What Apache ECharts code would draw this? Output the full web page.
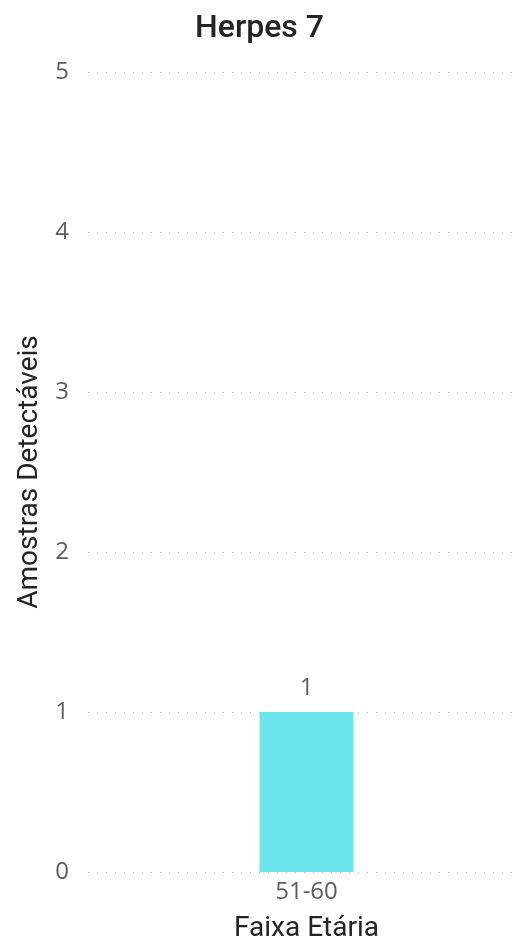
<!DOCTYPE html>
<html><head><meta charset="utf-8">
<script src="https://cdn.jsdelivr.net/npm/echarts@6/dist/echarts.min.js"></script>
<style>html,body{margin:0;padding:0;background:#fff}#c{width:519px;height:946px}</style>
</head><body><div id="c"></div>
<script>
const categories = ['51-60'];
const values = [1];
const yTicks = [0, 1, 2, 3, 4, 5];
const title = 'Herpes 7';
const xName = 'Faixa Etária';
const yName = 'Amostras Detectáveis';

const chart = echarts.init(document.getElementById('c'));
chart.setOption({
  animation: false,
  title: {text: title, left: 'center', top: 8, textStyle: {fontFamily: 'Roboto', fontSize: 32, fontWeight: 500, color: '#252423'}},
  grid: {left: 88, right: -6, top: 72, bottom: 74, containLabel: false, outerBoundsMode: 'none'},
  xAxis: {
    type: 'category', data: categories,
    axisLine: {show: false}, axisTick: {show: false},
    axisLabel: {fontFamily: 'Open Sans', fontSize: 24, color: '#605E5C', margin: 8},
    name: xName, nameLocation: 'middle', nameGap: 43,
    nameTextStyle: {fontFamily: 'Roboto', fontSize: 28, fontWeight: 'normal', color: '#252423'}
  },
  yAxis: {
    type: 'value', min: yTicks[0], max: yTicks[yTicks.length - 1], interval: 1,
    axisLine: {show: false}, axisTick: {show: false},
    axisLabel: {fontFamily: 'Open Sans', fontSize: 24, color: '#605E5C', margin: 19},
    splitLine: {lineStyle: {type: [1, 8], color: '#B3B0AD', width: 1.2}},
    name: yName, nameLocation: 'middle', nameGap: 39,
    nameTextStyle: {fontFamily: 'Roboto', fontSize: 28, fontWeight: 'normal', color: '#252423'}
  },
  series: [{
    type: 'bar', data: values, barWidth: 94,
    itemStyle: {color: '#6AE6EC'},
    label: {show: true, position: 'top', distance: 12, fontFamily: 'Open Sans', fontSize: 24, color: '#605E5C'}
  }]
});
</script></body></html>
